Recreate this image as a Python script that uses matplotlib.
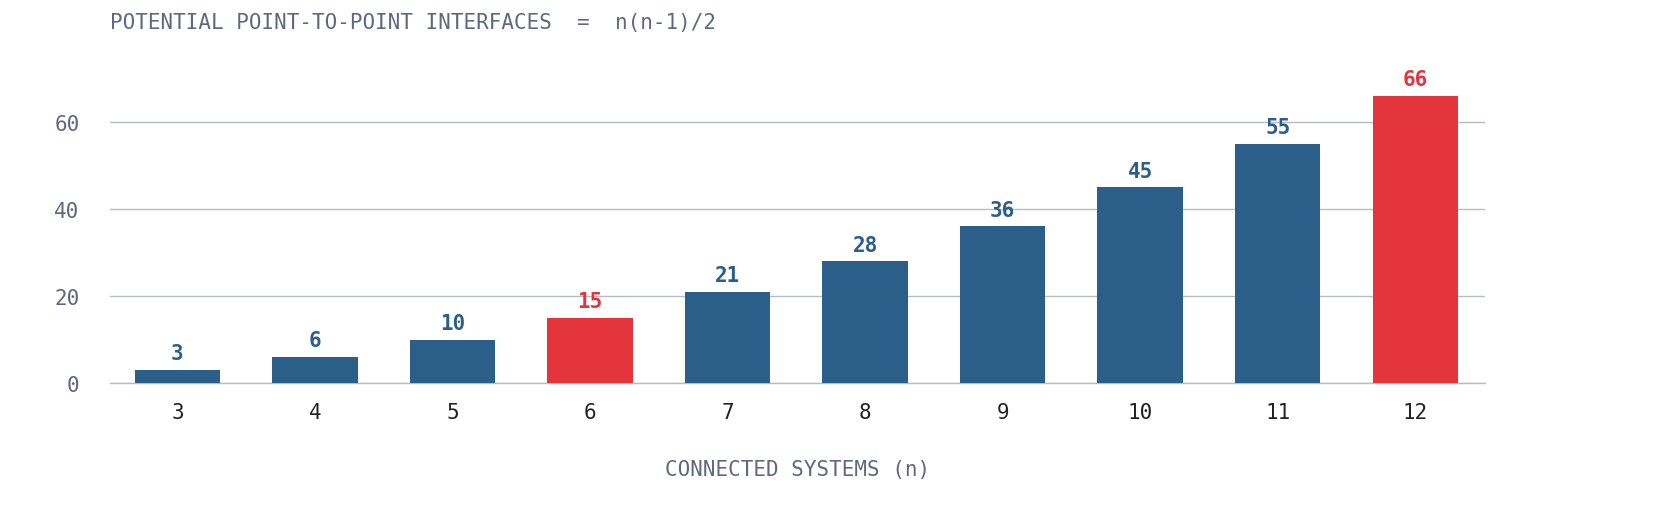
import matplotlib
matplotlib.use("Agg")
import matplotlib.pyplot as plt

n_values = [3, 4, 5, 6, 7, 8, 9, 10, 11, 12]
interfaces = [3, 6, 10, 15, 21, 28, 36, 45, 55, 66]
highlight = [6, 12]

BLUE = "#2B5F8A"
RED = "#E4353D"
GRAY = "#5F6880"
plt.rcParams['font.family'] = ['DejaVu Sans Mono']

fig = plt.figure(figsize=(16.67, 5.10), dpi=100)
ax = fig.add_axes([0.066, 0.247, 0.825, 0.614])
x = list(range(len(n_values)))
colors = [RED if n in highlight else BLUE for n in n_values]
ax.bar(x, interfaces, width=0.62, color=colors, zorder=3)
for xi, v, c in zip(x, interfaces, colors):
    ax.text(xi, v + 1.5, str(v), ha="center", va="bottom", color=c,
            fontsize=15, fontweight="bold")
ax.set_xlim(-0.49, 9.51)
ax.set_ylim(0, 72)
ax.set_yticks([0, 20, 40, 60])
ax.set_xticks(x)
ax.set_xticklabels([str(n) for n in n_values])
ax.grid(axis="y", color="#B8BCC6", linewidth=1, zorder=0)
ax.axhline(0, color="#B8BCC6", linewidth=1, zorder=2, clip_on=False)
for s in ax.spines.values():
    s.set_visible(False)
ax.tick_params(axis="both", length=0, labelsize=15)
ax.tick_params(axis="y", colors=GRAY, pad=22)
ax.tick_params(axis="x", colors="#222222", pad=14)
ax.set_xlabel("CONNECTED SYSTEMS (n)", color=GRAY, fontsize=15, labelpad=26)
fig.text(0.066, 0.955, "POTENTIAL POINT-TO-POINT INTERFACES  =  n(n-1)/2",
         color=GRAY, fontsize=15, va="center", ha="left")
fig.savefig("out.png", dpi=100)
